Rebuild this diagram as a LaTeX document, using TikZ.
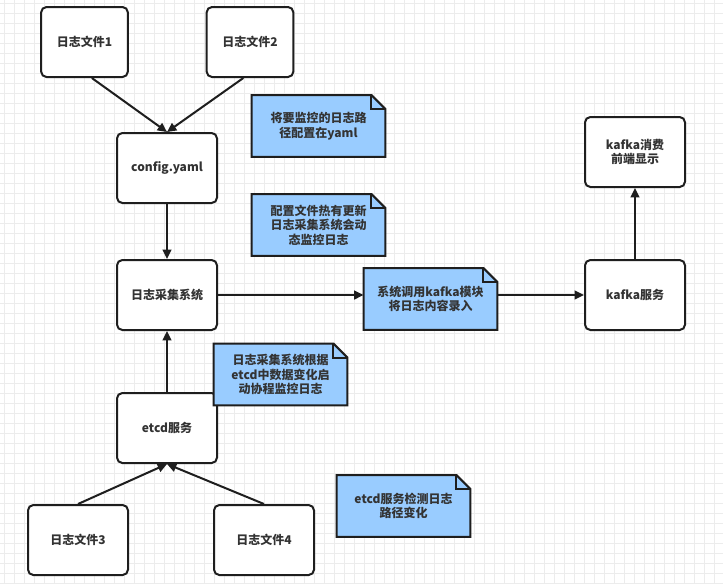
\documentclass[tikz,border=0pt]{standalone}
\usepackage{fontspec}
\setmainfont{Noto Sans CJK SC}
\usepackage{xcolor}
\usetikzlibrary{arrows.meta, positioning, calc}
\definecolor{logdark}{RGB}{51, 51, 51}
\definecolor{logline}{RGB}{30, 30, 30}
\definecolor{logblue}{RGB}{153, 204, 255}
\definecolor{loggrid}{RGB}{236, 236, 236}
\tikzset{
  block/.style={rectangle, rounded corners=4pt, draw=logline, line width=1.5pt, fill=white,
                text=logdark, align=center, minimum width=#1, minimum height=52.5pt,
                font=\small\bfseries},
  block/.default=75pt,
  notebox/.style={rectangle, inner sep=0pt, text=logdark, align=center,
                  minimum width=100pt, minimum height=46pt, font=\small\bfseries},
  notefold/.style={draw=logline, line width=1.5pt, fill=logblue, line join=miter},
  arrow/.style={-{Triangle[length=7pt, width=6.5pt]}, line width=1.5pt, color=logline},
  gridline/.style={color=loggrid, line width=0.5pt},
}

\begin{document}
\begin{tikzpicture}[x=0.75pt, y=-0.75pt]
  \useasboundingbox (0,0) rectangle (723,583);
  % background grid
  \fill[white] (0,0) rectangle (723,583);
  \foreach \gx in {4,14,...,723} \draw[gridline] (\gx,0) -- (\gx,583);
  \foreach \gy in {3,13,...,583} \draw[gridline] (0,\gy) -- (723,\gy);

  % boxes
  \node[block=65pt] (file1) at (84.5,42) {日志文件1};
  \node[block=65pt] (file2) at (250,42) {日志文件2};
  \node[block] (config) at (167,168) {config.yaml};
  \node[block] (collect) at (167,295) {日志采集系统};
  \node[block] (etcd) at (167,428) {etcd服务};
  \node[block] (file3) at (78,540) {日志文件3};
  \node[block] (file4) at (264,540) {日志文件4};
  \node[block] (kafka) at (635,295) {kafka服务};
  \node[block] (front) at (635,152) {kafka消费\\前端显示};

  % notes
  \node[notebox] (note1) at (318.5,126) {};
  \node[notebox] (note2) at (318.5,225) {};
  \node[notebox] (note3) at (280.5,374.5) {};
  \node[notebox] (note4) at (403.5,506) {};
  \node[notebox] (note5) at (430.5,299) {};
  \foreach \n in {note1,note2,note3,note4,note5} {
    \draw[notefold] (\n.south west) -- (\n.north west) -- ([xshift=-10.5pt]\n.north east)
      -- ([yshift=-10.5pt]\n.north east) -- (\n.south east) -- cycle;
    \draw[draw=logline, line width=1.5pt, line join=miter] ([xshift=-10.5pt]\n.north east)
      -- ([xshift=-10.5pt, yshift=-10.5pt]\n.north east) -- ([yshift=-10.5pt]\n.north east);
  }
  \node[notebox] at (note1) {将要监控的日志路\\径配置在yaml};
  \node[notebox] at (note2) {配置文件热有更新\\日志采集系统会动\\态监控日志};
  \node[notebox] at (note3) {日志采集系统根据\\etcd中数据变化启\\动协程监控日志};
  \node[notebox] at (note4) {etcd服务检测日志\\路径变化};
  \node[notebox] at (note5) {系统调用kafka模块\\将日志内容录入};

  % connectors
  \draw[arrow] ([xshift=5.5pt]file1.south) -- (config.north);
  \draw[arrow] ([xshift=-5pt]file2.south) -- (config.north);
  \draw[arrow] (config) -- (collect);
  \draw[arrow] (etcd) -- (collect);
  \draw[arrow] (file3.north) -- (etcd.south);
  \draw[arrow] (file4.north) -- (etcd.south);
  \draw[arrow] (collect.east) -- (collect.east -| note5.west);
  \draw[arrow] (collect.east -| note5.east) -- (kafka.west);
  \draw[arrow] (kafka) -- (front);
\end{tikzpicture}
\end{document}
